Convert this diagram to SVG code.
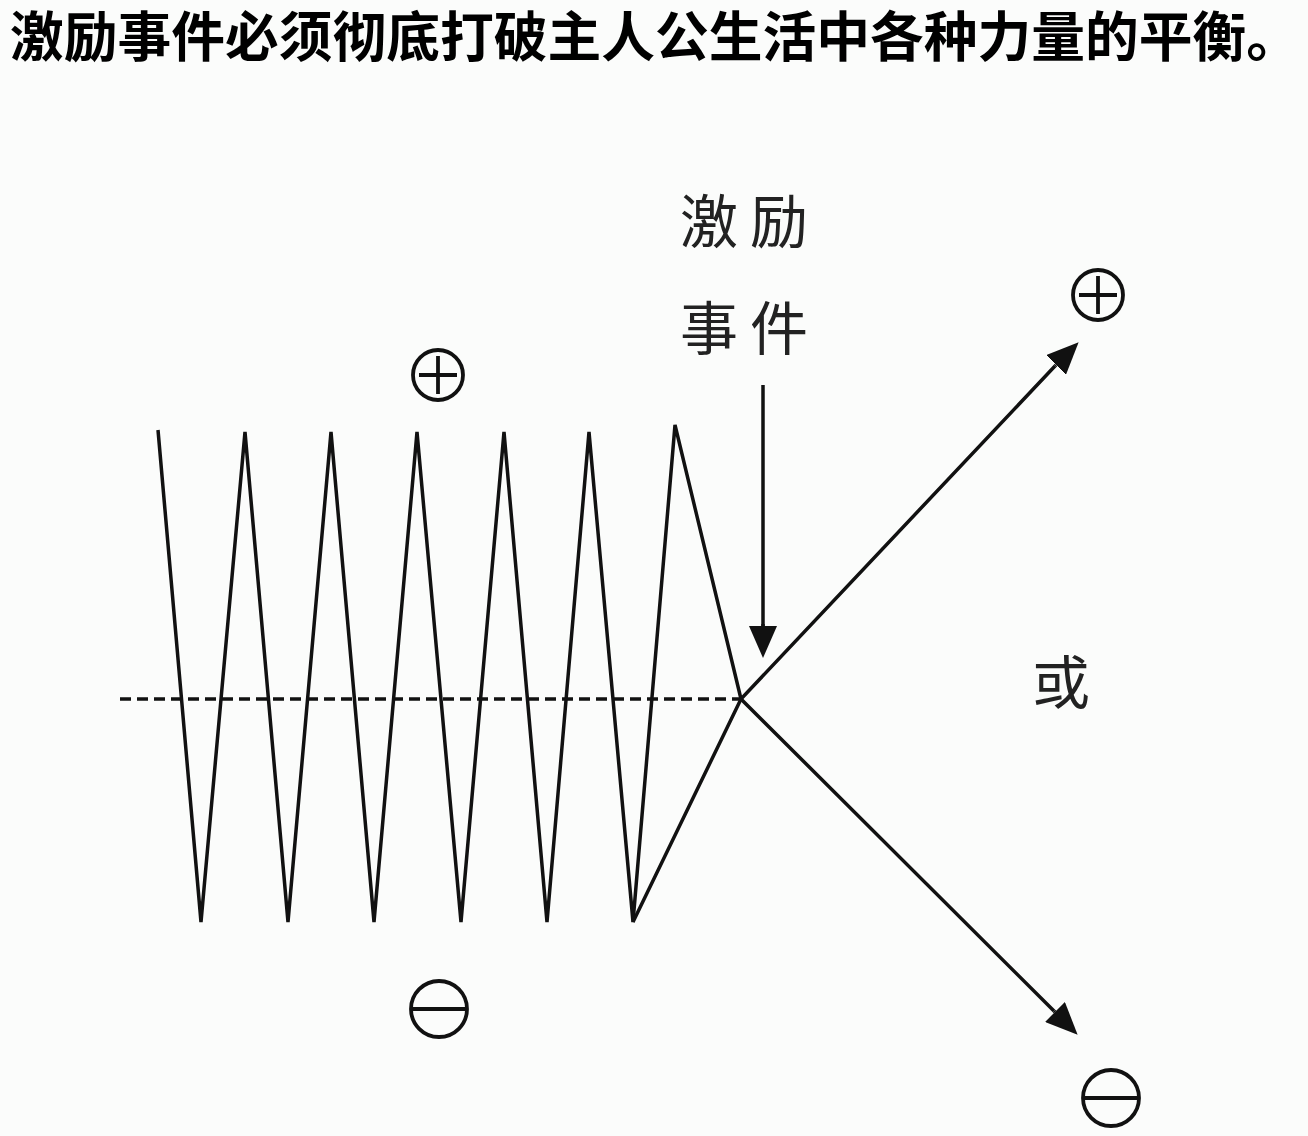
<svg xmlns="http://www.w3.org/2000/svg" width="1308" height="1136" viewBox="0 0 1308 1136">
<style>
.ln{fill:none;stroke:#111;stroke-width:3.5;stroke-linejoin:miter;stroke-linecap:butt}
.sym{fill:none;stroke:#111;stroke-width:3.8}
.lbl{font-family:"Noto Sans CJK SC","Noto Sans CJK JP",sans-serif;font-size:58px;fill:#222}
.title{font-family:"Noto Sans CJK SC","Noto Sans CJK JP",sans-serif;font-size:54px;font-weight:bold;fill:#000}
</style>
<defs>
<marker id="ah" viewBox="0 0 32 28" refX="0" refY="14" markerWidth="32" markerHeight="28" markerUnits="userSpaceOnUse" orient="auto">
<path d="M0,0 L32,14 L0,28 z" fill="#111"/>
</marker>
</defs>
<rect width="1308" height="1136" fill="#fbfcfb"/>
<text class="title" x="10" y="57" textLength="1290" lengthAdjust="spacingAndGlyphs">激励事件必须彻底打破主人公生活中各种力量的平衡。</text>
<g id="connectors">
<line class="ln" x1="120" y1="699" x2="741" y2="699" stroke-dasharray="11 6"/>
<path id="zigzag" class="ln" d="M158,430 L201,922 L245,432 L288,922 L331,432 L374,922 L417,432 L461,922 L504,432 L547,922 L589,432 L633,922 L675,425 L741,699 L1054,1011"/>
<path class="ln" d="M633,922 L741,699 L1055,366"/>
<line class="ln" x1="763" y1="385" x2="763" y2="626"/>
<line class="ln" x1="1055" y1="366" x2="1056" y2="365" marker-end="url(#ah)"/>
<line class="ln" x1="1054" y1="1011" x2="1055" y2="1012" marker-end="url(#ah)"/>
<line class="ln" x1="763" y1="624" x2="763" y2="626" marker-end="url(#ah)"/>
</g>
<g id="label-event">
<text class="lbl" x="680" y="243" letter-spacing="12">激励</text>
<text class="lbl" x="680" y="350" letter-spacing="12">事件</text>
</g>
<g id="label-or">
<text class="lbl" x="1032" y="704">或</text>
</g>
<g id="plus-top">
<circle class="sym" cx="438" cy="375" r="25"/>
<path class="sym" d="M419,375 H457 M438,356 V394"/>
</g>
<g id="plus-right">
<circle class="sym" cx="1098" cy="295" r="25"/>
<path class="sym" d="M1079,295 H1117 M1098,276 V314"/>
</g>
<g id="minus-bottom">
<circle class="sym" cx="439" cy="1009" r="28"/>
<path class="sym" d="M411,1009 H467"/>
</g>
<g id="minus-right">
<circle class="sym" cx="1111" cy="1098" r="28"/>
<path class="sym" d="M1083,1098 H1139"/>
</g>
</svg>
